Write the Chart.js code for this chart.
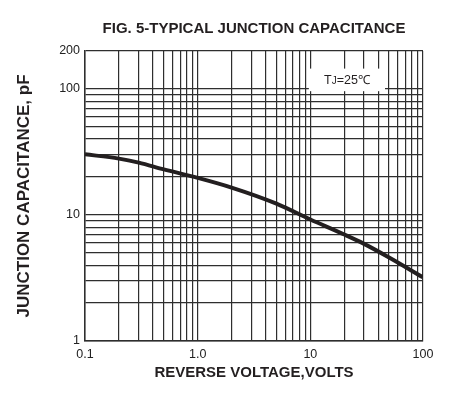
<!DOCTYPE html>
<html>
<head>
<meta charset="utf-8">
<script src="https://cdn.jsdelivr.net/npm/chart.js@4.4.1/dist/chart.umd.min.js"></script>
<style>
  html, body { margin: 0; padding: 0; background: #fff; }
  #wrap { width: 452px; height: 395px; }
</style>
</head>
<body>
<div id="wrap"><canvas id="capChart" width="452" height="395"></canvas></div>
<script>
// Curve (reverse voltage in volts, capacitance in pF)
const voltage = [0.1, 0.2, 0.3, 0.5, 1, 2, 5, 10, 20, 30, 50, 100];
const capacitance = [30.3, 28.0, 26.0, 23.0, 19.7, 16.5, 12.3, 9.2, 7.0, 5.9, 4.6, 3.2];

// Grid / tick positions
const xTicks = [0.1, 0.2, 0.3, 0.4, 0.5, 0.6, 0.7, 0.8, 0.9, 1, 2, 3, 4, 5, 6, 7, 8, 9, 10,
                20, 30, 40, 50, 60, 70, 80, 90, 100];
const xLabels = { 0.1: '0.1', 1: '1.0', 10: '10', 100: '100' };
const yTicks = [1, 2, 3, 4, 5, 6, 7, 8, 9, 10, 20, 30, 40, 50, 60, 70, 80, 90, 100, 200];
const yLabels = { 1: '1', 10: '10', 100: '100', 200: '200' };

const ink = '#231f20';
const gridColor = '#2e2e2e';
const fontFamily = '"Liberation Sans", Arial, sans-serif';

// White label box with the test condition
const conditionBox = {
    id: 'conditionBox',
    afterDatasetsDraw(chart) {
        const { ctx, scales: { x, y } } = chart;
        const left = x.getPixelForValue(9.7);
        const right = x.getPixelForValue(46);
        const top = y.getPixelForValue(145);
        const bottom = y.getPixelForValue(96);
        ctx.save();
        ctx.fillStyle = '#fff';
        ctx.fillRect(left, top, right - left, bottom - top);

        const big = '12.5px ' + fontFamily;
        const small = '10px ' + fontFamily;
        const rest = '=25\u2103';
        ctx.font = big;
        const wT = ctx.measureText('T').width;
        const wRest = ctx.measureText(rest).width;
        ctx.font = small;
        const wJ = ctx.measureText('J').width;
        let cx = (left + right) / 2 - (wT + wJ + wRest) / 2;
        const base = y.getPixelForValue(100) - 5;
        ctx.fillStyle = ink;
        ctx.textBaseline = 'alphabetic';
        ctx.font = big;
        ctx.fillText('T', cx, base);
        cx += wT;
        ctx.font = small;
        ctx.fillText('J', cx, base);
        cx += wJ;
        ctx.font = big;
        ctx.fillText(rest, cx, base);
        ctx.restore();
    }
};

const ctx = document.getElementById('capChart').getContext('2d');
new Chart(ctx, {
    type: 'line',
    data: {
        datasets: [{
            data: voltage.map((v, i) => ({ x: v, y: capacitance[i] })),
            borderColor: ink,
            borderWidth: 4,
            pointRadius: 0,
            fill: false,
            cubicInterpolationMode: 'monotone'
        }]
    },
    options: {
        responsive: false,
        animation: false,
        layout: { padding: { left: 0, right: 29, top: 0, bottom: 0 } },
        plugins: {
            legend: { display: false },
            tooltip: { enabled: false },
            title: {
                display: true,
                fullSize: false,
                text: 'FIG. 5-TYPICAL JUNCTION CAPACITANCE',
                color: ink,
                font: { family: fontFamily, size: 15, weight: 'bold' },
                padding: { top: 20, bottom: 13 }
            }
        },
        scales: {
            x: {
                type: 'logarithmic',
                min: 0.1,
                max: 100,
                afterBuildTicks: scale => { scale.ticks = xTicks.map(v => ({ value: v })); },
                afterFit: scale => { scale.height = 54; },
                ticks: {
                    autoSkip: false,
                    maxRotation: 0,
                    padding: 6,
                    color: '#222',
                    font: { family: fontFamily, size: 12.5 },
                    callback: value => xLabels[value] || ''
                },
                grid: { color: gridColor, lineWidth: 1.2, drawTicks: false },
                border: { color: gridColor, width: 1.5 },
                title: {
                    display: true,
                    text: 'REVERSE VOLTAGE,VOLTS',
                    color: ink,
                    font: { family: fontFamily, size: 15, weight: 'bold' },
                    padding: { top: 0, bottom: 13 }
                }
            },
            y: {
                type: 'logarithmic',
                min: 1,
                max: 200,
                afterBuildTicks: scale => { scale.ticks = yTicks.map(v => ({ value: v })); },
                afterFit: scale => { scale.width = 85; },
                ticks: {
                    autoSkip: false,
                    padding: 5,
                    color: '#222',
                    font: { family: fontFamily, size: 12.5 },
                    callback: value => yLabels[value] || ''
                },
                grid: { color: gridColor, lineWidth: 1.2, drawTicks: false },
                border: { color: gridColor, width: 1.5 },
                title: {
                    display: true,
                    text: 'JUNCTION CAPACITANCE, pF',
                    color: ink,
                    font: { family: fontFamily, size: 17, weight: 'bold' },
                    padding: { top: 14, bottom: 0 }
                }
            }
        }
    },
    plugins: [conditionBox]
});
</script>
</body>
</html>
